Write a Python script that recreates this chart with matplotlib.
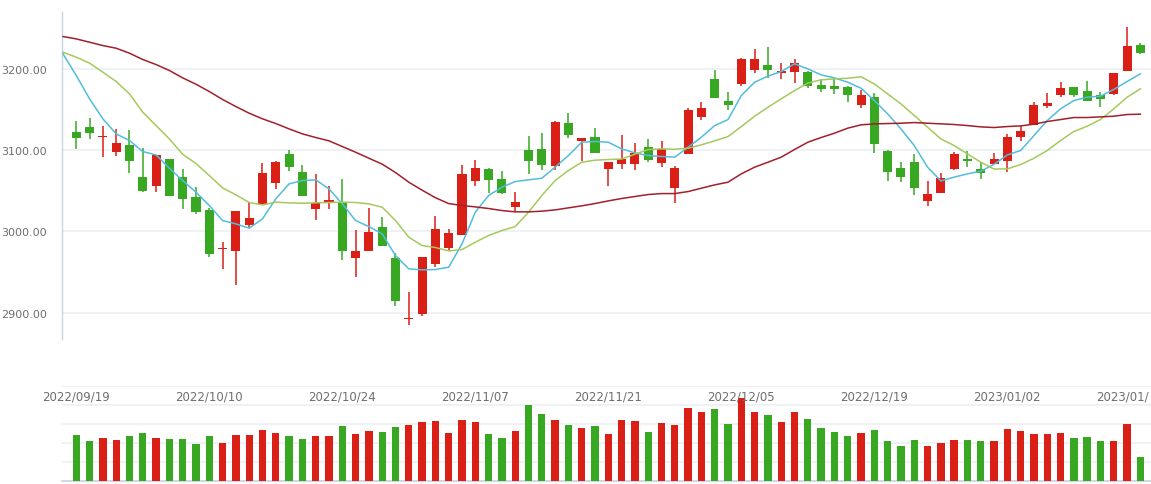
import numpy as np
import matplotlib.pyplot as plt

# OHLC values for each trading day
opens = [3122.5, 3128.6, 3115.9, 3098.2, 3106.5, 3067.1, 3055.2, 3089.2, 3067.1, 3042.4,
         3026.4, 2978.0, 2976.4, 3007.2, 3033.8, 3060.1, 3095.4, 3073.2, 3028.1, 3036.3,
         3035.5, 2967.8, 2976.4, 3005.5, 2967.4, 2892.3, 2898.8, 2959.2, 2980.1, 2996.1,
         3062.5, 3076.9, 3064.6, 3030.5, 3100.3, 3101.5, 3081.0, 3133.5, 3110.6, 3116.3,
         3077.3, 3083.5, 3083.5, 3104.0, 3084.7, 3053.9, 3095.8, 3141.3, 3187.7, 3160.6,
         3181.9, 3199.2, 3204.9, 3195.5, 3196.7, 3196.3, 3180.3, 3179.1, 3177.8, 3156.1,
         3165.5, 3099.1, 3078.1, 3085.5, 3037.9, 3047.8, 3077.3, 3089.2, 3076.9, 3083.5,
         3087.2, 3116.7, 3131.5, 3154.9, 3168.4, 3177.8, 3172.9, 3168.0, 3169.6, 3197.9,
         3229.5]
highs = [3136.0, 3139.7, 3129.8, 3126.1, 3124.9, 3102.8, 3094.5, 3089.2, 3076.9, 3054.8,
         3028.5, 2987.1, 3025.2, 3036.3, 3084.3, 3086.8, 3100.3, 3081.8, 3070.8, 3056.0,
         3064.6, 3001.8, 3028.9, 3017.8, 2973.5, 2925.5, 2968.6, 3019.0, 3003.1, 3081.8,
         3088.0, 3078.1, 3074.4, 3048.6, 3117.5, 3121.2, 3136.0, 3145.8, 3115.1, 3127.4,
         3085.5, 3118.8, 3108.9, 3113.8, 3111.4, 3080.6, 3152.0, 3159.4, 3198.8, 3171.7,
         3213.5, 3224.6, 3227.1, 3207.4, 3212.3, 3197.5, 3187.7, 3190.2, 3179.1, 3174.2,
         3170.5, 3100.3, 3085.5, 3095.4, 3062.1, 3072.0, 3097.8, 3099.1, 3085.5, 3096.6,
         3120.0, 3129.8, 3159.4, 3170.5, 3184.0, 3177.8, 3185.2, 3171.7, 3195.1, 3251.7,
         3232.0]
lows = [3101.5, 3114.2, 3092.1, 3093.3, 3072.4, 3048.6, 3049.0, 3044.1, 3026.9, 3021.9,
        2969.0, 2954.2, 2934.5, 3003.5, 3033.0, 3052.3, 3074.4, 3044.0, 3014.5, 3026.9,
        2965.3, 2944.4, 2976.0, 2982.0, 2908.7, 2885.3, 2896.4, 2955.5, 2977.6, 2996.0,
        3055.2, 3047.8, 3046.5, 3024.4, 3071.2, 3076.1, 3074.9, 3115.5, 3087.2, 3097.0,
        3056.4, 3077.3, 3076.1, 3085.9, 3078.6, 3035.5, 3095.8, 3137.6, 3164.7, 3149.9,
        3178.3, 3195.5, 3189.3, 3188.1, 3183.2, 3177.0, 3172.1, 3169.6, 3158.6, 3152.4,
        3097.0, 3062.5, 3061.3, 3045.3, 3031.8, 3047.8, 3074.9, 3079.8, 3065.0, 3083.5,
        3073.6, 3110.6, 3130.3, 3152.4, 3165.9, 3165.9, 3161.0, 3153.6, 3168.4, 3197.9,
        3218.9]
closes = [3115.5, 3121.6, 3117.5, 3108.9, 3087.2, 3050.2, 3094.1, 3044.1, 3040.4, 3023.2,
          2972.7, 2979.7, 3025.2, 3016.6, 3072.0, 3085.5, 3079.8, 3044.1, 3034.6, 3038.8,
          2976.4, 2976.0, 2999.4, 2982.5, 2914.8, 2893.9, 2968.6, 3003.1, 2998.1, 3070.8,
          3078.1, 3063.8, 3047.8, 3036.3, 3087.2, 3082.2, 3134.8, 3119.2, 3115.1, 3097.0,
          3085.5, 3089.2, 3096.6, 3088.4, 3101.5, 3078.1, 3149.5, 3152.0, 3164.7, 3156.1,
          3212.3, 3212.3, 3199.2, 3197.5, 3207.4, 3178.3, 3175.8, 3175.8, 3168.4, 3168.0,
          3106.9, 3073.6, 3067.5, 3053.9, 3046.1, 3065.8, 3095.4, 3087.2, 3072.4, 3089.2,
          3116.3, 3123.7, 3155.7, 3158.1, 3176.6, 3168.4, 3161.0, 3163.5, 3195.1, 3228.3,
          3220.1]
volumes = [242, 211, 226, 216, 237, 253, 226, 221, 221, 195,
           237, 200, 242, 242, 268, 253, 237, 221, 237, 237,
           289, 247, 263, 258, 284, 295, 311, 316, 253, 321,
           311, 247, 226, 263, 400, 353, 321, 295, 279, 289,
           247, 321, 316, 258, 305, 295, 384, 363, 379, 300,
           437, 363, 347, 311, 363, 326, 279, 258, 237, 253,
           268, 211, 184, 216, 184, 200, 216, 216, 211, 211,
           274, 263, 247, 247, 253, 226, 232, 211, 211, 300,
           126]

# moving averages (they start one slot before the first candle)
ma5 = [3218.5, 3191.8, 3163.1, 3138.5, 3120.0, 3111.8, 3098.2, 3094.1, 3077.7, 3062.5,
       3048.2, 3031.8, 3013.3, 3009.2, 3003.9, 3015.4, 3040.0, 3058.4, 3062.5, 3063.4,
       3052.3, 3033.8, 3013.3, 3005.9, 2996.9, 2970.2, 2953.8, 2952.6, 2953.0, 2955.8,
       2984.6, 3023.6, 3044.1, 3054.3, 3061.3, 3063.4, 3065.4, 3079.0, 3093.3, 3109.7,
       3110.6, 3109.7, 3101.5, 3096.6, 3093.3, 3092.1, 3091.3, 3103.6, 3115.9, 3130.2,
       3137.6, 3167.2, 3183.6, 3191.0, 3196.7, 3206.2, 3200.0, 3192.6, 3188.9, 3183.6,
       3176.2, 3161.0, 3144.6, 3126.1, 3105.6, 3079.0, 3062.1, 3066.7, 3070.8, 3074.0,
       3082.5, 3094.1, 3099.5, 3117.9, 3136.4, 3150.8, 3161.0, 3165.1, 3166.4, 3174.6,
       3184.4, 3193.8]
ma10 = [3220.5, 3214.4, 3207.0, 3195.9, 3184.4, 3169.2, 3146.7, 3130.2, 3113.8, 3094.9,
        3083.5, 3068.7, 3053.5, 3044.9, 3035.5, 3032.6, 3035.9, 3035.1, 3034.6, 3035.1,
        3035.5, 3035.9, 3035.5, 3033.8, 3029.7, 3013.3, 2992.8, 2982.5, 2980.1, 2975.9,
        2977.6, 2986.6, 2994.9, 3001.0, 3005.9, 3023.6, 3044.1, 3062.5, 3074.9, 3085.1,
        3087.6, 3088.4, 3089.0, 3095.0, 3100.7, 3101.5, 3101.1, 3102.3, 3106.5, 3111.4,
        3116.7, 3129.0, 3141.7, 3152.8, 3163.1, 3173.3, 3182.5, 3186.5, 3187.7, 3188.5,
        3190.2, 3181.5, 3169.2, 3156.9, 3142.6, 3128.2, 3113.8, 3105.6, 3095.4, 3085.1,
        3076.7, 3076.9, 3082.2, 3090.0, 3099.5, 3111.8, 3122.9, 3129.4, 3137.6, 3150.8,
        3165.1, 3175.4]
ma30 = [3239.8, 3236.9, 3232.8, 3228.7, 3225.4, 3219.3, 3211.5, 3205.3, 3198.0, 3188.9,
        3181.1, 3172.1, 3162.3, 3153.6, 3145.4, 3138.5, 3132.7, 3126.1, 3120.0, 3115.5,
        3111.4, 3104.4, 3097.4, 3090.0, 3082.7, 3072.4, 3060.5, 3050.7, 3041.4, 3034.2,
        3031.8, 3030.1, 3028.1, 3025.6, 3024.0, 3024.0, 3024.8, 3026.4, 3028.9, 3031.4,
        3034.2, 3037.5, 3040.4, 3042.9, 3045.3, 3046.5, 3046.5, 3049.0, 3053.1, 3057.2,
        3060.5, 3070.8, 3079.0, 3085.1, 3091.3, 3100.7, 3109.7, 3115.5, 3120.8, 3127.0,
        3131.1, 3132.3, 3132.7, 3133.1, 3133.9, 3133.1, 3132.3, 3131.5, 3130.2, 3128.6,
        3127.8, 3129.0, 3129.8, 3131.9, 3135.2, 3137.6, 3140.1, 3140.1, 3140.9, 3141.7,
        3143.8, 3144.2]

# the last label is shown truncated at the right edge in the original
date_labels = ['2022/09/19', '2022/10/10', '2022/10/24', '2022/11/07', '2022/11/21',
               '2022/12/05', '2022/12/19', '2023/01/02', '2023/01/']
y_ticks = [2900, 3000, 3100, 3200]

RED = '#da1f17'
GREEN = '#38a822'
GRID = '#eef1f5'
AXIS = '#c8d2e2'
TEXT = '#6e6e6e'

o = np.array(opens)
c = np.array(closes)
x = np.arange(len(opens))
x_ma = np.arange(-1, len(opens))
colors = [RED if cc >= oo else GREEN for oo, cc in zip(o, c)]
x_min, x_max = -1.07, 80.8

fig = plt.figure(figsize=(11.51, 4.85), dpi=100)

# --- candles ---
ax = fig.add_axes([0.0539, 0.299, 1.0 - 0.0539, 0.9732 - 0.299])
ax.vlines(x, lows, highs, colors=colors, linewidth=1.1, zorder=2)
body_bottom = np.minimum(o, c)
body_height = np.maximum(np.abs(c - o), 0.9)
ax.bar(x, body_height, bottom=body_bottom, width=0.68, color=colors, linewidth=0, zorder=3)

ax.plot(x_ma, ma5, color='#52bddb', linewidth=1.1, zorder=4)
ax.plot(x_ma, ma10, color='#a5c95c', linewidth=1.1, zorder=4)
ax.plot(x_ma, ma30, color='#a2202b', linewidth=1.1, zorder=4)

ax.set_xlim(x_min, x_max)
ax.set_ylim(2867.5, 3270)
ax.set_yticks(y_ticks)
ax.set_yticklabels([f'{v:.2f}' for v in y_ticks])
ax.set_xticks([])
ax.tick_params(axis='y', length=0, pad=11, labelsize=8, labelcolor=TEXT)
for v in y_ticks:
    ax.axhline(v, color=GRID, linewidth=1.3, zorder=0)
for side in ['top', 'right', 'bottom']:
    ax.spines[side].set_visible(False)
ax.spines['left'].set_color(AXIS)
ax.spines['left'].set_linewidth(1.0)

# --- volume ---
axv = fig.add_axes([0.0539, 0.0062, 1.0 - 0.0539, 0.202 - 0.0062])
axv.bar(x, volumes, width=0.55, color=colors, linewidth=0, zorder=3)
axv.set_xlim(x_min, x_max)
axv.set_ylim(0, 500)
for v in [100, 200, 300, 400, 500]:
    axv.axhline(v, color=GRID, linewidth=1.3, zorder=0)
axv.set_xticks([])
axv.set_yticks([])
for side in ['top', 'right', 'left']:
    axv.spines[side].set_visible(False)
axv.spines['bottom'].set_color(AXIS)
axv.spines['bottom'].set_linewidth(1.2)

# date labels sit at the top of the volume panel, one every 10 trading days
for i, label in enumerate(date_labels):
    if i == len(date_labels) - 1:
        axv.text(0.998, 445, label, ha='right', va='center', fontsize=8.5, color=TEXT,
                 transform=axv.get_yaxis_transform(), zorder=5)
    else:
        axv.text(i * 10, 445, label, ha='center', va='center', fontsize=8.5, color=TEXT,
                 clip_on=False, zorder=5)

plt.savefig('out.png', dpi=100)
